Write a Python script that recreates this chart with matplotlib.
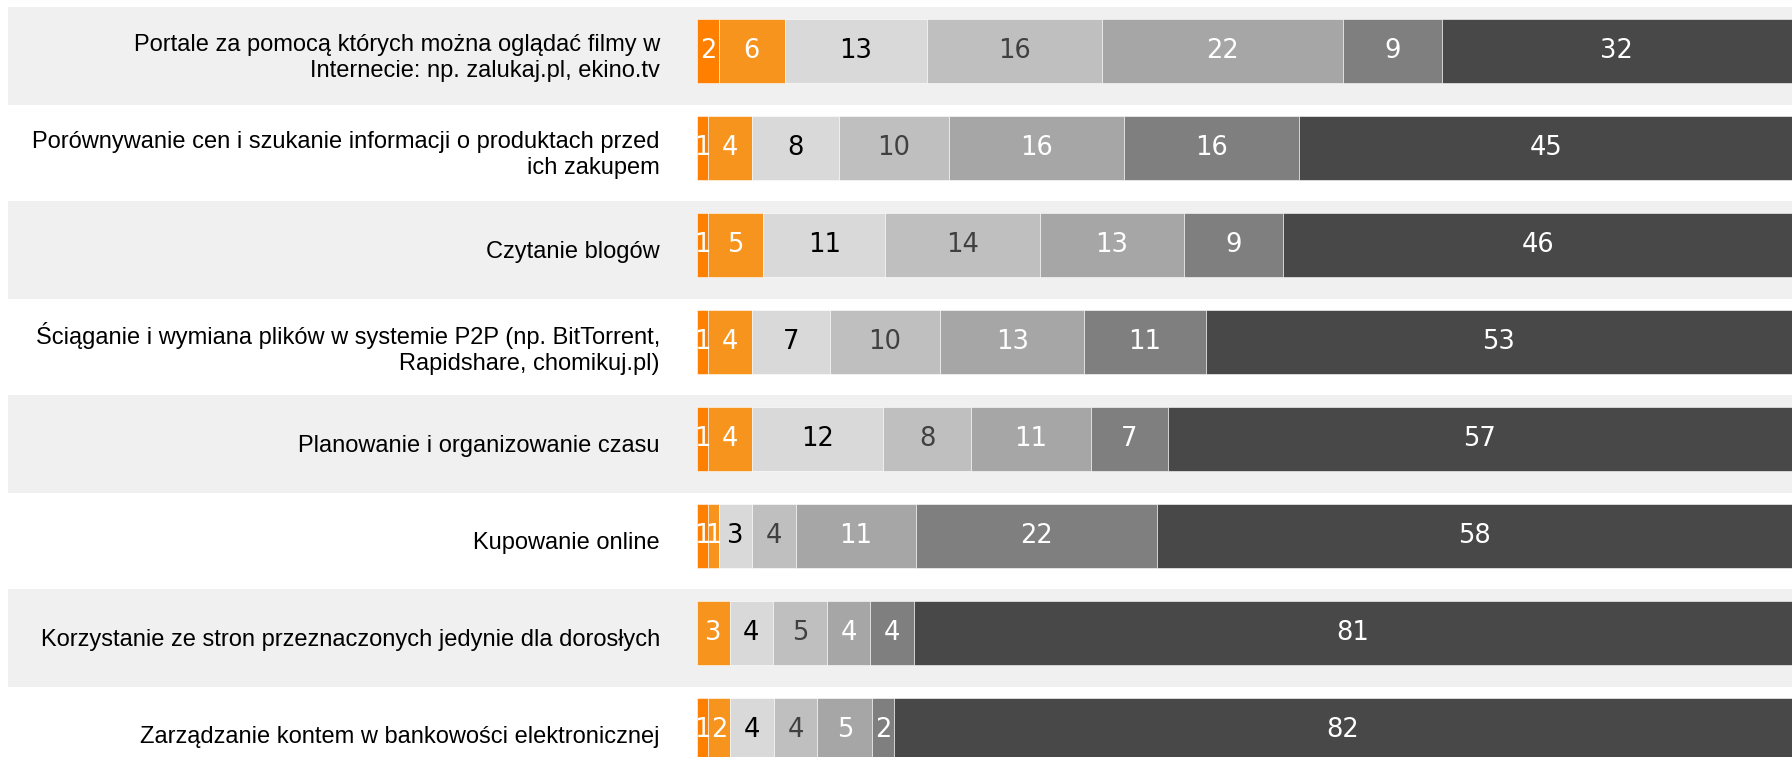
import matplotlib
matplotlib.use("Agg")
import matplotlib.pyplot as plt
import matplotlib.transforms as mtransforms
from matplotlib.patches import Rectangle
import numpy as np

categories = [
    "Portale za pomocą których można oglądać filmy w\nInternecie: np. zalukaj.pl, ekino.tv",
    "Porównywanie cen i szukanie informacji o produktach przed\nich zakupem",
    "Czytanie blogów",
    "Ściąganie i wymiana plików w systemie P2P (np. BitTorrent,\nRapidshare, chomikuj.pl)",
    "Planowanie i organizowanie czasu",
    "Kupowanie online",
    "Korzystanie ze stron przeznaczonych jedynie dla dorosłych",
    "Zarządzanie kontem w bankowości elektronicznej",
]

# one list per answer level (columns of the stacked bar)
s1 = [2, 1, 1, 1, 1, 1, 0, 1]
s2 = [6, 4, 5, 4, 4, 1, 3, 2]
s3 = [13, 8, 11, 7, 12, 3, 4, 4]
s4 = [16, 10, 14, 10, 8, 4, 5, 4]
s5 = [22, 16, 13, 13, 11, 11, 4, 5]
s6 = [9, 16, 9, 11, 7, 22, 4, 2]
s7 = [32, 45, 46, 53, 57, 58, 81, 82]

series = [s1, s2, s3, s4, s5, s6, s7]
colors = ["#FF7F00", "#F7941E", "#D9D9D9", "#BFBFBF", "#A6A6A6", "#7F7F7F", "#484848"]
text_colors = ["white", "white", "black", "#404040", "white", "white", "white"]

W, H = 1792, 757
fig = plt.figure(figsize=(W / 100, H / 100), dpi=100)
x0 = 697 / W
ax = fig.add_axes([x0, 0, 1 - x0, 1])

vals = np.array(series, dtype=float)
widths = vals / vals.sum(axis=0) * 100  # rows are shown as full 100% bars
y = np.arange(len(categories))

# alternating background bands
trans = mtransforms.blended_transform_factory(ax.transAxes, ax.transData)
band_x = (8 - 697) / 1095
for i in y:
    if i % 2 == 0:
        ax.add_patch(Rectangle((band_x, i - 0.45), 1 - band_x, 1.01, transform=trans,
                               facecolor="#F0F0F0", edgecolor="none", clip_on=False, zorder=0))

left = np.zeros(len(categories))
for k in range(len(series)):
    ax.barh(y, widths[k], left=left, height=0.66, color=colors[k],
            edgecolor="white", linewidth=0.4, zorder=2)
    for i in y:
        if series[k][i] > 0:
            ax.text(left[i] + widths[k][i] / 2, i, str(series[k][i]), ha="center", va="center",
                    fontsize=18.5, color=text_colors[k], family="DejaVu Sans", zorder=3)
    left += widths[k]

for i, lab in zip(y, categories):
    ax.text(-0.034, i + 0.07, lab, transform=trans, ha="right", va="center",
            fontsize=17, family="Liberation Sans", color="black", linespacing=1.25)

ax.set_xlim(0, 100)
ax.set_ylim((757 - 51) / 97, -51 / 97)
ax.axis("off")

fig.savefig("out.png", dpi=100)
